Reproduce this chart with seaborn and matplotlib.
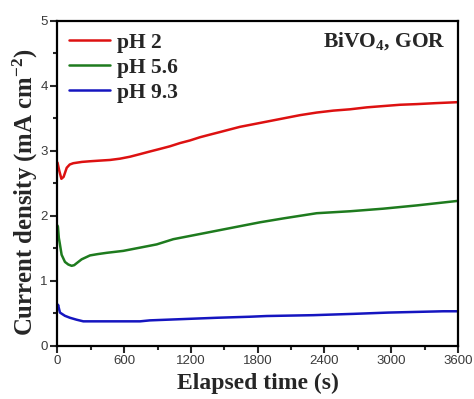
import numpy as np
import pandas as pd
import matplotlib
matplotlib.use("Agg")
import matplotlib.pyplot as plt
import seaborn as sns
from matplotlib.ticker import MultipleLocator

# --- data ---
t_ph2 = [0, 15, 35, 55, 83, 110, 142, 220, 292, 380, 472, 562, 652, 742, 830, 921, 1010,
         1101, 1190, 1281, 1370, 1461, 1550, 1640, 1730, 1820, 2030, 2180, 2330, 2480,
         2629, 2780, 2929, 3080, 3229, 3400, 3600]
j_ph2 = [2.82, 2.70, 2.57, 2.60, 2.74, 2.79, 2.81, 2.83, 2.84, 2.85, 2.86, 2.88, 2.91,
         2.95, 2.99, 3.03, 3.07, 3.12, 3.16, 3.21, 3.25, 3.29, 3.33, 3.37, 3.40, 3.43,
         3.50, 3.55, 3.59, 3.62, 3.64, 3.67, 3.69, 3.71, 3.72, 3.735, 3.75]

t_ph56 = [0, 4, 12, 20, 37, 67, 97, 127, 150, 172, 217, 292, 360, 442, 591, 742, 892,
          1041, 1191, 1341, 1490, 1640, 1820, 2030, 2330, 2629, 2929, 3229, 3600]
j_ph56 = [1.85, 1.83, 1.66, 1.58, 1.40, 1.29, 1.25, 1.23, 1.24, 1.27, 1.33, 1.39, 1.41,
          1.43, 1.46, 1.51, 1.56, 1.64, 1.69, 1.74, 1.79, 1.84, 1.90, 1.96, 2.04, 2.07,
          2.11, 2.16, 2.23]

t_ph93 = [0, 5, 22, 67, 112, 172, 232, 742, 831, 1071, 1431, 1730, 1880, 2299, 2659,
          2973, 3468, 3600]
j_ph93 = [0.58, 0.63, 0.51, 0.46, 0.43, 0.40, 0.375, 0.375, 0.39, 0.406, 0.43, 0.446,
          0.457, 0.47, 0.49, 0.51, 0.53, 0.53]

labels = ["pH 2", "pH 5.6", "pH 9.3"]
x_ticks = [0, 600, 1200, 1800, 2400, 3000, 3600]
y_ticks = [0, 1, 2, 3, 4, 5]

df = pd.concat([
    pd.DataFrame({"t": t_ph2, "j": j_ph2, "pH": labels[0]}),
    pd.DataFrame({"t": t_ph56, "j": j_ph56, "pH": labels[1]}),
    pd.DataFrame({"t": t_ph93, "j": j_ph93, "pH": labels[2]}),
], ignore_index=True)

sns.set_style("ticks")
plt.rcParams["font.family"] = ["Liberation Sans", "DejaVu Sans"]
plt.rcParams["mathtext.fontset"] = "custom"
plt.rcParams["mathtext.rm"] = "Liberation Serif:bold"
plt.rcParams["mathtext.it"] = "Liberation Serif:bold"
plt.rcParams["mathtext.bf"] = "Liberation Serif:bold"
plt.rcParams["axes.unicode_minus"] = False

fig = plt.figure(figsize=(4.74, 3.99), dpi=100)
ax = fig.add_axes([0.1213, 0.1336, 0.8449, 0.8138])

palette = {labels[0]: "#dd1111", labels[1]: "#1e7b1e", labels[2]: "#1515c0"}
sns.lineplot(data=df, x="t", y="j", hue="pH", palette=palette, linewidth=1.8,
             ax=ax, estimator=None, sort=False)

ax.set_xlim(0, 3600)
ax.set_ylim(0, 5)
ax.set_xticks(x_ticks)
ax.set_yticks(y_ticks)
ax.xaxis.set_minor_locator(MultipleLocator(300))
ax.yaxis.set_minor_locator(MultipleLocator(0.5))
ax.tick_params(which="major", direction="out", length=5, width=1.5,
               labelsize=9.5, labelcolor="#3a3a3a", pad=2)
ax.tick_params(which="minor", direction="out", length=3, width=1.5)
for s in ax.spines.values():
    s.set_visible(True)
    s.set_linewidth(1.6)
    s.set_color("black")

serif = ["Liberation Serif", "DejaVu Serif"]
ax.set_xlabel("Elapsed time (s)", fontsize=17, fontweight="bold", family=serif, labelpad=4)
ax.set_ylabel("Current density (mA cm$^{-2}$)", fontsize=17.8, fontweight="bold",
              family=serif)
ax.yaxis.set_label_coords(-0.043, 0.474)

leg = ax.legend(loc="upper left", frameon=False, handlelength=1.9, handletextpad=0.3,
                labelspacing=0.22, borderaxespad=0.15,
                prop={"family": serif, "weight": "bold", "size": 15.5})

ax.text(0.97, 0.937, "BiVO$_4$, GOR", transform=ax.transAxes, ha="right", va="center",
        fontsize=15.5, fontweight="bold", family=serif)

fig.savefig("out.png", dpi=100)
